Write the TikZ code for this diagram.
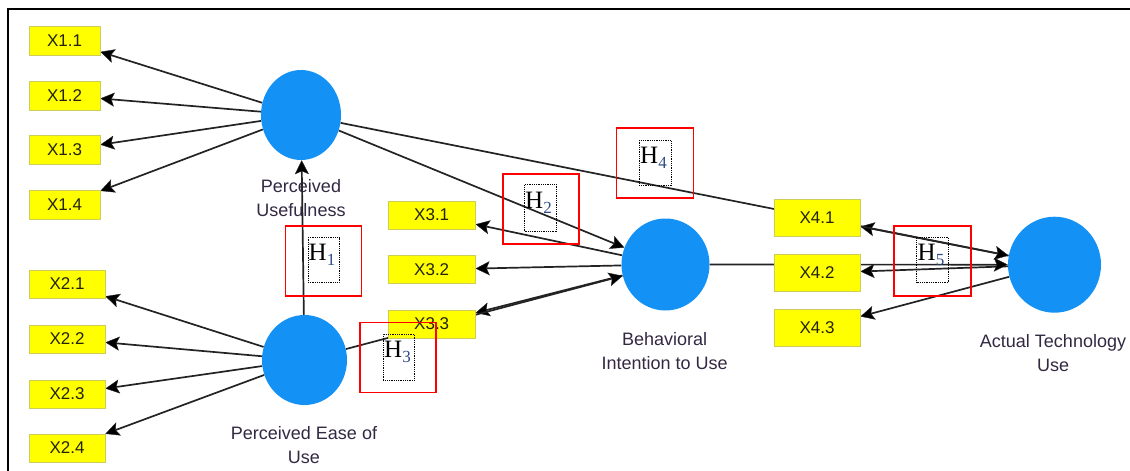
\documentclass[tikz,border=0pt]{standalone}
\usepackage{fontspec}
\setmainfont{Liberation Sans}
\newfontfamily\hfont{Liberation Serif}
\usetikzlibrary{arrows.meta,shapes.geometric,backgrounds}
\definecolor{lvblue}{RGB}{20,145,245}
\definecolor{indyel}{RGB}{255,255,0}
\definecolor{indbrd}{RGB}{205,205,90}
\definecolor{txtdark}{RGB}{35,35,10}
\definecolor{lbltxt}{RGB}{50,40,65}
\definecolor{conncol}{RGB}{35,35,35}
\definecolor{subblue}{RGB}{45,75,135}
\newcommand{\hsub}[1]{H\raisebox{-5pt}{\color{subblue}\fontsize{17}{17}\selectfont #1}}
\begin{document}
\begin{tikzpicture}[x=1pt,y=-1pt,
  lv/.style={ellipse, fill=lvblue, draw=none, inner sep=0pt},
  ind/.style={rectangle, fill=indyel, draw=indbrd, line width=0.8pt, inner sep=0pt,
    font=\fontsize{17}{18}\selectfont, text=txtdark},
  lvlabel/.style={align=center, font=\fontsize{18}{24}\selectfont, text=lbltxt, inner sep=0pt},
  conn/.style={draw=conncol, line width=1.7pt, -{Stealth[length=14pt,width=14pt,inset=3pt,fill=black,line width=0.4pt]}},
  redbox/.style={draw=red, line width=1.7pt, inner sep=0pt, minimum width=76pt, minimum height=70pt},
  dotbox/.style={draw=black, densely dotted, line width=0.8pt, inner sep=0pt, minimum width=31pt, minimum height=45pt},
  htext/.style={font=\hfont\fontsize{25}{26}\selectfont, inner sep=0pt, anchor=base west},
]
\useasboundingbox (0,0) rectangle (1130,471);

% latent variables
\node[lv, minimum width=80pt, minimum height=90pt] (pu) at (301,115) {};
\node[lv, minimum width=85pt, minimum height=90pt] (peou) at (304.5,360) {};
\node[lv, minimum width=88pt, minimum height=92pt] (bi) at (665.5,264.5) {};
\node[lv, minimum width=93pt, minimum height=96pt] (atu) at (1054.5,264.7) {};

% latent labels
\node[lvlabel] (pulab) at (301,198.5) {Perceived\\Usefulness};
\node[lvlabel] (peoulab) at (304,445.5) {Perceived Ease of\\Use};
\node[lvlabel] (bilab) at (664.7,351.5) {Behavioral\\Intention to Use};
\node[lvlabel] (atulab) at (1053,353.5) {Actual Technology\\Use};

% indicators
\foreach \i/\y in {1/40.5, 2/95.5, 3/150, 4/204.5}
  \node[ind, minimum width=71pt, minimum height=29pt] (x1\i) at (64.5,\y) {X1.\i};
\foreach \i/\y in {1/284, 2/339, 3/394, 4/448}
  \node[ind, minimum width=76pt, minimum height=28pt] (x2\i) at (67,\y) {X2.\i};
\foreach \i/\y in {1/215, 2/269.5, 3/324}
  \node[ind, minimum width=87pt, minimum height=28pt] (x3\i) at (431.7,\y) {X3.\i};
\foreach \i/\y in {1/218, 2/273, 3/328}
  \node[ind, minimum width=86pt, minimum height=37pt] (x4\i) at (817,\y) {X4.\i};

% connectors
\begin{scope}[on background layer]
  \foreach \i in {1,2,3,4} \draw[conn] (pu) -- (x1\i);
  \foreach \i in {1,2,3,4} \draw[conn] (peou) -- (x2\i);
  \foreach \i in {1,2,3} \draw[conn] (bi) -- (x3\i);
  \foreach \i in {1,2,3} \draw[conn] (atu) -- (x4\i);
  \draw[conn] (peou) -- (pu);
  \draw[conn] (peou) -- (bi);
  \draw[conn] (pu) -- (bi);
  \draw[conn] (pu) -- (atu);
  \draw[conn] (bi) -- (atu);
\end{scope}

% hypothesis markers
\node[redbox] (h1r) at (323.5,261) {};
\node[dotbox] (h1d) at (323.5,260) {};
\node[htext] (h1t) at (308.5,260) {\hsub{1}};

\node[redbox] (h2r) at (540.8,208.7) {};
\node[dotbox, minimum width=32pt, minimum height=47pt] (h2d) at (540.5,208.3) {};
\node[htext] (h2t) at (525,208) {\hsub{2}};

\node[redbox] (h3r) at (398.3,357.5) {};
\node[dotbox, minimum height=46pt] (h3d) at (398.8,357.2) {};
\node[htext] (h3t) at (384,357) {\hsub{3}};

\node[redbox, minimum width=77pt] (h4r) at (655,163.3) {};
\node[dotbox, minimum width=32pt] (h4d) at (655.2,163.3) {};
\node[htext] (h4t) at (640,163) {\hsub{4}};

\node[redbox, minimum width=77pt] (h5r) at (932.7,260.8) {};
\node[dotbox, minimum width=32pt] (h5d) at (932.5,260) {};
\node[htext] (h5t) at (917.5,260) {\hsub{5}};

% frame
\draw[line width=2pt, black] (1140,9) -- (8,9) -- (8,480);
\end{tikzpicture}
\end{document}
